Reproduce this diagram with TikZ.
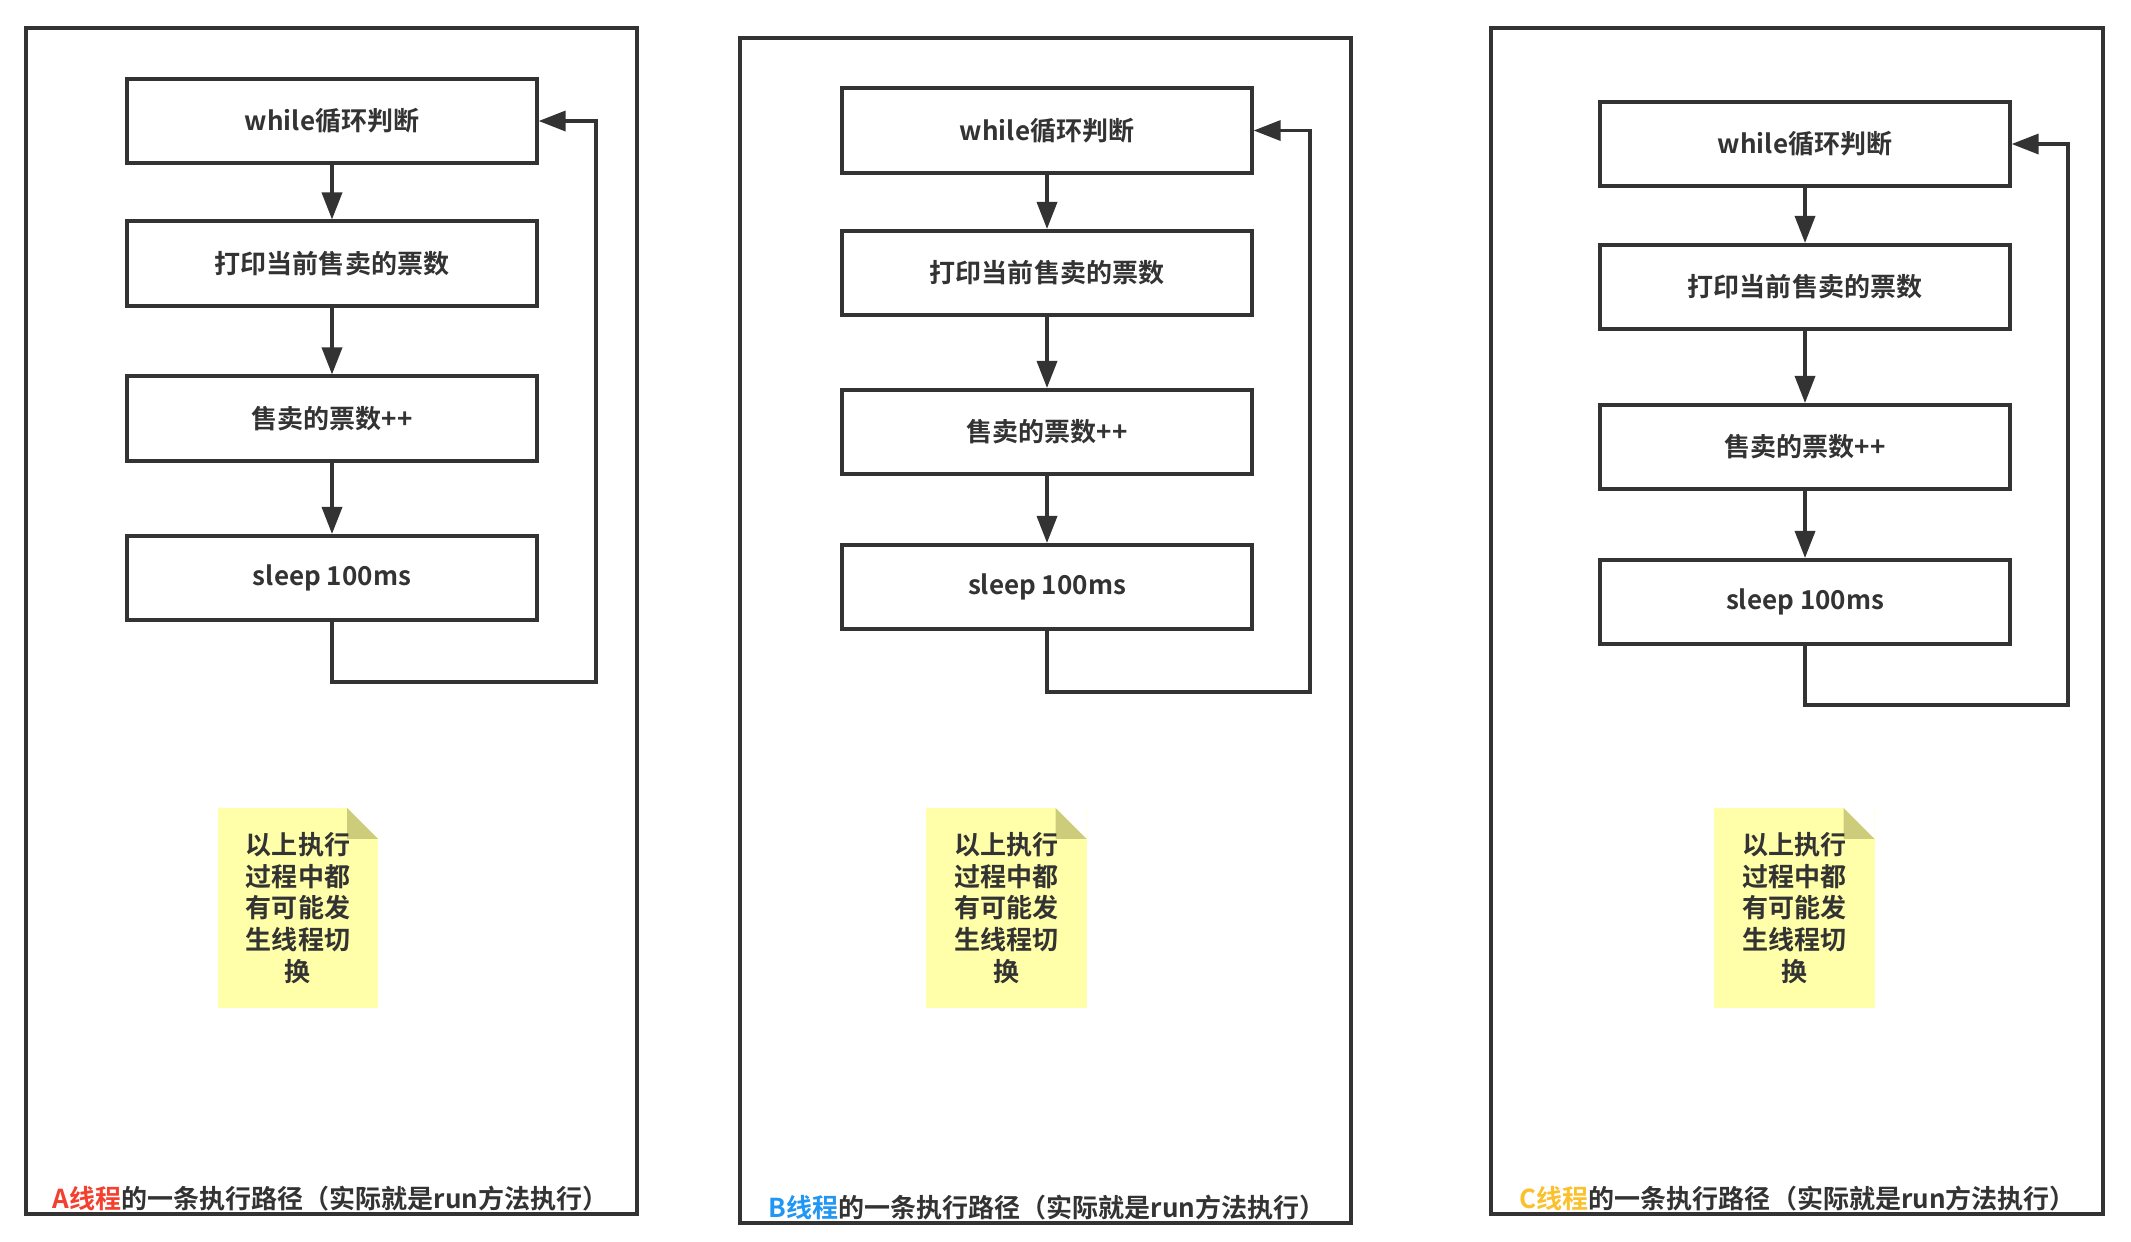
\documentclass[tikz,border=0pt]{standalone}
\usepackage{fontspec}
\setmainfont{Noto Sans CJK SC}[BoldFont={Noto Sans CJK SC Bold}]
\usepackage{xcolor}
\definecolor{linedark}{HTML}{333333}
\definecolor{textdark}{HTML}{333333}
\definecolor{notefill}{HTML}{FFFFAA}
\definecolor{notefold}{HTML}{CCCC7A}
\definecolor{threadA}{HTML}{F4402F}
\definecolor{threadB}{HTML}{2196F3}
\definecolor{threadC}{HTML}{FBC02D}
\newcommand{\flowfont}{\fontsize{7.4pt}{9pt}\selectfont\bfseries}
\usetikzlibrary{arrows.meta}

\begin{document}
\begin{tikzpicture}[x=0.01cm, y=-0.01cm,
	flowbox/.style={draw=linedark, line width=0.04cm, minimum width=4.09cm, minimum height=0.84cm, text=textdark, font=\flowfont},
	flow/.style={draw=linedark, line width=0.035cm, -{Triangle[length=0.27cm, width=0.2cm]}},
	panel/.style={draw=linedark, line width=0.042cm},
	notebox/.style={fill=notefill, minimum width=1.6cm, minimum height=2cm, inner sep=0pt, align=center, text=textdark, font=\flowfont,
		path picture={
			\fill[white] ([xshift=-0.31cm]path picture bounding box.north east) -- (path picture bounding box.north east) -- ([yshift=-0.31cm]path picture bounding box.north east) -- cycle;
			\fill[notefold] ([xshift=-0.31cm]path picture bounding box.north east) -- ([yshift=-0.31cm]path picture bounding box.north east) -- ([xshift=-0.31cm,yshift=-0.31cm]path picture bounding box.north east) -- cycle;
		}},
	pathlabel/.style={anchor=west, inner sep=0pt, text=textdark, font=\flowfont}]
	
	\useasboundingbox (0,0) rectangle (2131,1241);
	
	\begin{scope}
		% thread A
		\draw[panel] (26,28) rectangle (637,1214);
		\node[flowbox] (whileA) at (332,121) {while循环判断};
		\node[flowbox] (printA) at (332,263.5) {打印当前售卖的票数};
		\node[flowbox] (countA) at (332,418.5) {售卖的票数++};
		\node[flowbox] (sleepA) at (332,578) {sleep 100ms};
		\coordinate (loopA) at (596,682);
		
		\draw[flow] (whileA) -- (printA);
		\draw[flow] (printA) -- (countA);
		\draw[flow] (countA) -- (sleepA);
		\draw[flow] (sleepA.south) |- (loopA) |- (whileA.east);
		
		\node[notebox] (noteA) at (298,908) {以上执行\\过程中都\\有可能发\\生线程切\\换};
		\node[pathlabel] (titleA) at (52,1199) {\textcolor{threadA}{A线程}的一条执行路径（实际就是run方法执行）};
	\end{scope}
	
	\begin{scope}[shift={(714,10)}]
		% thread B
		\draw[panel] (26,28) rectangle (637,1213);
		\node[flowbox] (whileB) at (333,120.5) {while循环判断};
		\node[flowbox] (printB) at (333,263) {打印当前售卖的票数};
		\node[flowbox] (countB) at (333,422) {售卖的票数++};
		\node[flowbox] (sleepB) at (333,577) {sleep 100ms};
		\coordinate (loopB) at (596,682);
		
		\draw[flow] (whileB) -- (printB);
		\draw[flow] (printB) -- (countB);
		\draw[flow] (countB) -- (sleepB);
		\draw[flow] (sleepB.south) |- (loopB) |- (whileB.east);
		
		\node[notebox] (noteB) at (292.5,898) {以上执行\\过程中都\\有可能发\\生线程切\\换};
		\node[pathlabel] (titleB) at (54,1198) {\textcolor{threadB}{B线程}的一条执行路径（实际就是run方法执行）};
	\end{scope}
	
	\begin{scope}[shift={(1465,0)}]
		% thread C
		\draw[panel] (26,28) rectangle (638,1214);
		\node[flowbox] (whileC) at (340,144) {while循环判断};
		\node[flowbox] (printC) at (340,287) {打印当前售卖的票数};
		\node[flowbox] (countC) at (340,447) {售卖的票数++};
		\node[flowbox] (sleepC) at (340,602) {sleep 100ms};
		\coordinate (loopC) at (603,705);
		
		\draw[flow] (whileC) -- (printC);
		\draw[flow] (printC) -- (countC);
		\draw[flow] (countC) -- (sleepC);
		\draw[flow] (sleepC.south) |- (loopC) |- (whileC.east);
		
		\node[notebox] (noteC) at (329.5,908) {以上执行\\过程中都\\有可能发\\生线程切\\换};
		\node[pathlabel] (titleC) at (54,1199) {\textcolor{threadC}{C线程}的一条执行路径（实际就是run方法执行）};
	\end{scope}
	
\end{tikzpicture}
\end{document}
